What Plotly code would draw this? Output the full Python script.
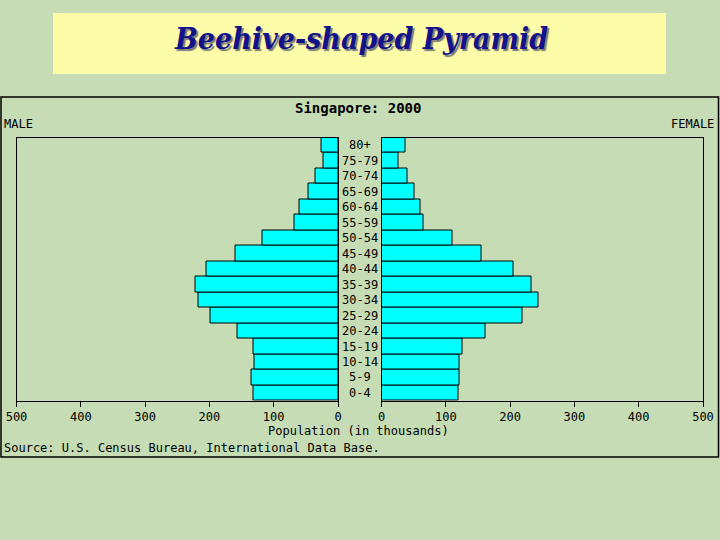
import plotly.graph_objects as go

ages = ["0-4", "5-9", "10-14", "15-19", "20-24", "25-29", "30-34", "35-39",
        "40-44", "45-49", "50-54", "55-59", "60-64", "65-69", "70-74", "75-79", "80+"]
male = [131, 134, 130, 132, 157, 199, 217, 221, 204, 160, 117, 68, 60, 46, 35, 22, 25]
female = [119, 122, 121, 126, 161, 220, 244, 234, 206, 156, 111, 65, 61, 52, 41, 27, 37]
x_ticks = [0, 100, 200, 300, 400, 500]

W, H = 720, 540
def px(x):
    return x / W
def py(y):
    return 1 - y / H

mono = "DejaVu Sans Mono"
bg = "#c5dcb5"

fig = go.Figure()
fig.add_trace(go.Bar(y=ages, x=male, orientation="h", xaxis="x", yaxis="y",
                     marker=dict(color="#00ffff", line=dict(color="black", width=1)),
                     showlegend=False))
fig.add_trace(go.Bar(y=ages, x=female, orientation="h", xaxis="x2", yaxis="y2",
                     marker=dict(color="#00ffff", line=dict(color="black", width=1)),
                     showlegend=False))

ydom = [py(400.7), py(137.5)]
axis_common = dict(showline=True, linecolor="black", linewidth=1, mirror=True,
                   showgrid=False, zeroline=False, ticks="outside", ticklen=5,
                   tickcolor="black", tickvals=x_ticks, automargin=False,
                   tickfont=dict(family=mono, size=12, color="black"))
yaxis_common = dict(showticklabels=False, ticks="", automargin=False,
                    showline=True, linecolor="black", mirror=True, showgrid=False,
                    zeroline=False, categoryorder="array", categoryarray=ages,
                    range=[-0.5, 16.5])
fig.update_layout(
    width=W, height=H,
    margin=dict(l=0, r=0, t=0, b=0, pad=0, autoexpand=False),
    paper_bgcolor=bg, plot_bgcolor="rgba(0,0,0,0)",
    bargap=0, showlegend=False,
    xaxis=dict(domain=[px(16.5), px(338)], range=[500, 0], anchor="y", **axis_common),
    xaxis2=dict(domain=[px(381.5), px(703)], range=[0, 500], anchor="y2", **axis_common),
    yaxis=dict(domain=ydom, anchor="x", **yaxis_common),
    yaxis2=dict(domain=ydom, anchor="x2", **yaxis_common),
)

shapes = [
    dict(type="rect", xref="paper", yref="paper", x0=px(53), x1=px(666),
         y0=py(74), y1=py(13), fillcolor="#fdfca8", line=dict(width=0), layer="below"),
    dict(type="rect", xref="paper", yref="paper", x0=px(1), x1=px(718.5),
         y0=py(457), y1=py(97), line=dict(color="black", width=1.5),
         fillcolor="rgba(0,0,0,0)"),
]
fig.update_layout(shapes=shapes)

ann = []
ann.append(dict(text="<b><i>Beehive-shaped Pyramid</i></b>", xref="paper", yref="paper",
                x=px(361), y=py(39), showarrow=False, xanchor="center", yanchor="middle",
                font=dict(family="DejaVu Serif Condensed, Liberation Serif, serif", size=30,
                          color="#12128a", shadow="2px 2px 1px #7a7a7a")))
ann.append(dict(text="<b>Singapore: 2000</b>", xref="paper", yref="paper",
                x=px(358), y=py(108), showarrow=False, xanchor="center", yanchor="middle",
                font=dict(family=mono, size=14, color="black")))
ann.append(dict(text="MALE", xref="paper", yref="paper", x=px(2), y=py(124),
                showarrow=False, xanchor="left", yanchor="middle",
                font=dict(family=mono, size=12, color="black")))
ann.append(dict(text="FEMALE", xref="paper", yref="paper", x=px(716), y=py(124),
                showarrow=False, xanchor="right", yanchor="middle",
                font=dict(family=mono, size=12, color="black")))
ann.append(dict(text="Population (in thousands)", xref="paper", yref="paper",
                x=px(358), y=py(431), showarrow=False, xanchor="center", yanchor="middle",
                font=dict(family=mono, size=12, color="black")))
ann.append(dict(text="Source: U.S. Census Bureau, International Data Base.",
                xref="paper", yref="paper", x=px(2), y=py(447.5), showarrow=False,
                xanchor="left", yanchor="middle",
                font=dict(family=mono, size=12, color="black")))
for a in ages:
    ann.append(dict(text=a, xref="paper", yref="y", x=px(359.5), y=a, showarrow=False,
                    xanchor="center", yanchor="middle",
                    font=dict(family=mono, size=12, color="black")))
fig.update_layout(annotations=ann)

fig.write_html("out.html", config={"displayModeBar": False},
               post_script="document.body.style.margin='0px';document.body.style.overflow='hidden';")
